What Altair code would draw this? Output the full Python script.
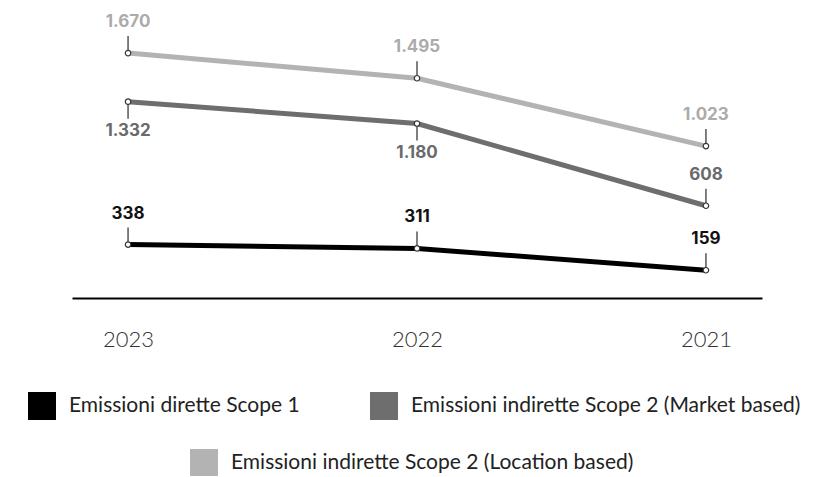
import altair as alt
import pandas as pd

years = ["2023", "2022", "2021"]
series_names = [
    "Emissioni dirette Scope 1",
    "Emissioni indirette Scope 2 (Market based)",
    "Emissioni indirette Scope 2 (Location based)",
]
scope1 = [338, 311, 159]
market = [1332, 1180, 608]
location = [1670, 1495, 1023]
# which side of the point the value label sits
scope1_side = ["above", "above", "above"]
market_side = ["below", "below", "above"]
location_side = ["above", "above", "above"]

line_colors = ["#000000", "#6e6e6e", "#b3b3b3"]
label_colors = ["#111111", "#6a6a6a", "#ababab"]

rows = []
for name, vals, sides in zip(series_names, [scope1, market, location],
                             [scope1_side, market_side, location_side]):
    for y, v, s in zip(years, vals, sides):
        rows.append({"year": y, "series": name, "value": v, "side": s})
df = pd.DataFrame(rows)

FONT = "Lato"
NUMFONT = "Inter"

x_enc = alt.X("year:N", sort=years,
              scale=alt.Scale(type="point", padding=0.194),
              axis=alt.Axis(title=None, ticks=False, labelAngle=0,
                            domainColor="#000000", domainWidth=2,
                            labelFont=FONT, labelFontSize=22,
                            labelColor="#333333", labelPadding=31,
                            labelFontWeight=300, grid=False))
y_enc = alt.Y("value:Q", scale=alt.Scale(domain=[-34, 1970], nice=False, zero=False),
              axis=None)

base = alt.Chart(df)

legend_common = dict(
    title=None, symbolType="square", symbolSize=196, symbolStrokeWidth=14,
    symbolOpacity=1, labelFont=FONT, labelFontSize=21, labelColor="#222222",
    labelOffset=13, labelLimit=700, orient="none", direction="horizontal",
    columnPadding=49, padding=0,
)

lineA = base.transform_filter(
    alt.FieldOneOfPredicate(field="series", oneOf=series_names[:2])
).mark_line(strokeWidth=5, strokeJoin="miter").encode(
    x=x_enc, y=y_enc,
    color=alt.Color("series:N",
                    scale=alt.Scale(domain=series_names[:2], range=line_colors[:2]),
                    legend=alt.Legend(legendX=-44, legendY=382, **legend_common)),
)

lineB = base.transform_filter(
    alt.FieldEqualPredicate(field="series", equal=series_names[2])
).mark_line(strokeWidth=5, strokeJoin="miter").encode(
    x=x_enc, y=y_enc,
    color=alt.Color("series:N",
                    scale=alt.Scale(domain=series_names[2:], range=line_colors[2:]),
                    legend=alt.Legend(legendX=118, legendY=439, **legend_common)),
)

rule_above = base.transform_filter("datum.side == 'above'").mark_rule(
    color="#555555", strokeWidth=1.5, y2Offset=-17
).encode(x=x_enc, y=y_enc, y2="value:Q")

rule_below = base.transform_filter("datum.side == 'below'").mark_rule(
    color="#555555", strokeWidth=1.5, y2Offset=17
).encode(x=x_enc, y=y_enc, y2="value:Q")

points = base.mark_point(filled=True, fill="#ffffff", stroke="#333333",
                         strokeWidth=1.2, size=30, opacity=1).encode(x=x_enc, y=y_enc)

text_color = alt.Color("series:N",
                       scale=alt.Scale(domain=series_names, range=label_colors),
                       legend=None)

text_above = base.transform_filter("datum.side == 'above'").transform_calculate(
    lab="replace(format(datum.value, ','), ',', '.')"
).mark_text(font=NUMFONT, fontSize=17, fontWeight="bold", dy=-31,
            baseline="middle").encode(x=x_enc, y=y_enc, text="lab:N", color=text_color)

text_below = base.transform_filter("datum.side == 'below'").transform_calculate(
    lab="replace(format(datum.value, ','), ',', '.')"
).mark_text(font=NUMFONT, fontSize=17, fontWeight="bold", dy=29,
            baseline="middle").encode(x=x_enc, y=y_enc, text="lab:N", color=text_color)

chart = alt.layer(
    lineA, lineB, rule_above, rule_below, points, text_above, text_below
).resolve_scale(color="independent").properties(
    width=690, height=288,
    autosize=alt.AutoSizeParams(type="none"),
    padding={"left": 64, "top": 2, "right": 50, "bottom": 178},
).configure(background="#ffffff").configure_view(strokeWidth=0, stroke=None)

chart.save("out.html", embed_options={"renderer": "svg", "actions": False})
